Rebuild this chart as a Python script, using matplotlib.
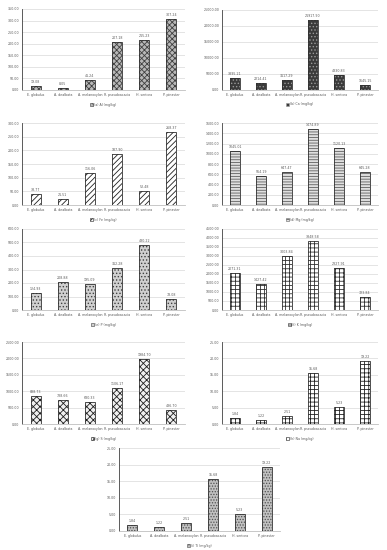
import matplotlib.pyplot as plt
import matplotlib as mpl
from matplotlib.patches import Patch

# species on the x axis (same for every panel)
species = ['E. globulus', 'A. dealbata', 'A. melanoxylon', 'R. pseudoacacia', 'H. sericea', 'P. pinaster']

# element concentrations in mg/kg
al = [19.08, 8.05, 41.24, 207.18, 215.23, 307.24]
ca = [3895.21, 2214.41, 3117.29, 21917.90, 4830.83, 1645.15]
fe = [38.77, 21.51, 116.06, 187.90, 52.48, 268.37]
mg = [1045.01, 564.19, 647.47, 1474.89, 1120.13, 645.28]
p = [124.93, 208.88, 195.09, 312.28, 480.22, 78.08]
k = [2071.31, 1427.42, 3003.84, 3848.58, 2327.91, 723.84]
s = [838.73, 738.66, 680.33, 1106.17, 1984.70, 436.70]
na = [1.84, 1.22, 2.51, 15.68, 5.23, 19.22]
ti = [1.84, 1.22, 2.51, 15.68, 5.23, 19.22]

labels = ['(a) Al (mg/kg)', '(b) Ca (mg/kg)', '(c) Fe (mg/kg)', '(d) Mg (mg/kg)',
          '(e) P (mg/kg)', '(f) K (mg/kg)', '(g) S (mg/kg)', '(h) Na (mg/kg)', '(i) Ti (mg/kg)']
ymax = [350, 25000, 300, 1600, 600, 4500, 2500, 25, 25]
ystep = [50, 5000, 50, 200, 100, 500, 500, 5, 5]

mpl.rcParams['hatch.linewidth'] = 0.6
W, H = 387, 550
fig = plt.figure(figsize=(W / 100, H / 100), dpi=100)

# axes boxes in pixels: left, top, right, bottom
boxes = [(22, 9, 185, 90), (222, 10, 378, 90),
         (22, 123, 185, 205), (222, 123, 378, 205),
         (22, 229, 185, 310), (222, 229, 378, 310),
         (22, 342, 185, 424), (222, 342, 378, 424),
         (119, 448, 280, 531)]

# (face, hatch colour, hatch)
styles = [('#b8b8b8', '#404040', 'xxxxxx'),
          ('#3a3a3a', '#9a9a9a', '.....'),
          ('white', '#202020', '//////'),
          ('#e0e0e0', '#606060', '------'),
          ('#d0d0d0', '#404040', '.....'),
          ('white', '#303030', '++++'),
          ('#f0f0f0', '#202020', 'xxxxx'),
          ('white', '#202020', '++++'),
          ('#c0c0c0', '#505050', '......')]

data = [al, ca, fe, mg, p, k, s, na, ti]
txt = '#595959'
fs = 2.3

for i, vals in enumerate(data):
    l, t, r, b = boxes[i]
    ax = fig.add_axes([l / W, 1 - b / H, (r - l) / W, (b - t) / H])
    face, hc, hatch = styles[i]
    ax.bar(species, vals, width=0.37, color=face, edgecolor=hc, hatch=hatch,
           linewidth=0, zorder=3)
    # outline bars separately so edges stay dark
    ax.bar(species, vals, width=0.37, fill=False, edgecolor='#303030', linewidth=0.6, zorder=4)
    for x, v in enumerate(vals):
        ax.text(x, v + ymax[i] * 0.025, '%.2f' % v, ha='center', va='bottom',
                fontsize=fs, color=txt)
    ax.set_ylim(0, ymax[i])
    ax.set_yticks(range(0, ymax[i] + 1, ystep[i]))
    ax.set_yticklabels(['%.2f' % y for y in range(0, ymax[i] + 1, ystep[i])])
    ax.set_xlim(-0.5, 5.5)
    ax.tick_params(axis='both', labelsize=fs, colors=txt, length=0, pad=2)
    ax.grid(axis='y', color='#d9d9d9', linewidth=0.5, zorder=0)
    for sp in ['top', 'right']:
        ax.spines[sp].set_visible(False)
    ax.spines['left'].set_color('#404040')
    ax.spines['left'].set_linewidth(0.6)
    ax.spines['bottom'].set_color('#bfbfbf')
    ax.spines['bottom'].set_linewidth(0.6)
    handle = Patch(facecolor=face, edgecolor=hc, hatch=hatch[:3], linewidth=0.4)
    ax.legend(handles=[handle], labels=[labels[i]], loc='upper center',
              bbox_to_anchor=(0.5, -0.12), frameon=False, fontsize=fs, labelcolor=txt,
              handlelength=1.0, handleheight=1.0, handletextpad=0.3)

fig.savefig('out.png', dpi=100)
